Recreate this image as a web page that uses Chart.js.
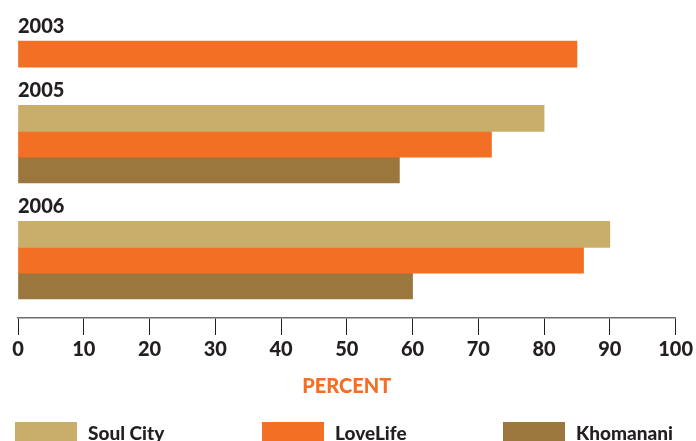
<!DOCTYPE html>
<html>
<head>
    <title>Percent by Campaign</title>
    <script src="https://cdn.jsdelivr.net/npm/chart.js"></script>
    <style>
        body { margin: 0; overflow: hidden; background: #fff; }
        #wrap { position: relative; width: 696px; height: 441px; }
        #legend {
            position: absolute; left: 0; top: 422px; width: 696px; height: 20px;
            font: 900 19px Lato, sans-serif; color: #231f20;
        }
        .item { position: absolute; top: 0; display: flex; align-items: center; white-space: nowrap; height: 20px; }
        .box { width: 62px; height: 20px; margin-right: 11px; }
    </style>
</head>
<body>
<div id="wrap">
    <canvas id="barChart" width="696" height="441"></canvas>
    <div id="legend"></div>
</div>
<script>
    // values
    const years = ['2003', '2005', '2006'];
    const seriesNames = ['Soul City', 'LoveLife', 'Khomanani'];
    const soulCity = [null, 80, 90];
    const loveLife = [85, 72, 86];
    const khomanani = [null, 58, 60];
    const xTicks = [0, 10, 20, 30, 40, 50, 60, 70, 80, 90, 100];

    const seriesValues = [soulCity, loveLife, khomanani];
    const colors = ['#C9AE6B', '#F26F23', '#9B763D'];
    const legendLeft = [15, 262, 503];
    const textColor = '#231f20';
    const boldFont = 'Lato';

    // every bar takes two thin rows; the gaps hold the year captions
    const rows = [];
    const rowData = seriesValues.map(() => []);
    const firstRowOfYear = [];
    function addRow() {
        rows.push('r' + rows.length);
        rowData.forEach(d => d.push(null));
        return rows.length - 1;
    }
    for (let i = 0; i < 3; i++) addRow();
    years.forEach((year, yi) => {
        if (yi > 0) for (let i = 0; i < 3; i++) addRow();
        seriesValues.forEach((vals, si) => {
            if (vals[yi] === null) return;
            const r = addRow();
            if (firstRowOfYear[yi] === undefined) firstRowOfYear[yi] = r;
            rowData[si][r] = vals[yi];
            addRow();
        });
    });
    addRow();

    const BAR = 26;

    const yearCaptions = {
        id: 'yearCaptions',
        afterDatasetsDraw(chart) {
            const { ctx, chartArea, scales } = chart;
            ctx.save();
            ctx.font = '900 20px ' + boldFont;
            ctx.fillStyle = textColor;
            ctx.textAlign = 'left';
            ctx.textBaseline = 'alphabetic';
            years.forEach((year, yi) => {
                const y = scales.y.getPixelForValue(firstRowOfYear[yi]) - BAR / 2 - 8;
                ctx.fillText(year, chartArea.left, y);
            });
            ctx.restore();
        }
    };

    const ctx = document.getElementById('barChart').getContext('2d');
    const chart = new Chart(ctx, {
        type: 'bar',
        data: {
            labels: rows,
            datasets: seriesNames.map((name, i) => ({
                label: name,
                data: rowData[i],
                backgroundColor: colors[i],
                barThickness: BAR,
                grouped: false,
                borderWidth: 0
            }))
        },
        options: {
            indexAxis: 'y',
            responsive: false,
            animation: false,
            layout: { padding: { left: 18, right: 19, top: 9, bottom: 42 } },
            plugins: {
                legend: { display: false },
                tooltip: { enabled: false }
            },
            scales: {
                y: { display: false },
                x: {
                    min: 0,
                    max: 100,
                    afterBuildTicks: axis => { axis.ticks = xTicks.map(v => ({ value: v })); },
                    ticks: {
                        color: textColor,
                        padding: 3,
                        maxRotation: 0,
                        font: { family: boldFont, weight: '900', size: 20 }
                    },
                    grid: {
                        drawOnChartArea: false,
                        drawTicks: true,
                        tickLength: 17,
                        color: textColor,
                        lineWidth: 1
                    },
                    border: { color: '#6d6e71', width: 1.5 },
                    title: {
                        display: true,
                        text: 'PERCENT',
                        color: '#F26F23',
                        font: { family: boldFont, weight: '900', size: 20 },
                        padding: { top: 10, bottom: 0 }
                    }
                }
            }
        },
        plugins: [yearCaptions]
    });

    // legend row under the axis
    const legend = document.getElementById('legend');
    seriesNames.forEach((name, i) => {
        const item = document.createElement('div');
        item.className = 'item';
        item.style.left = legendLeft[i] + 'px';
        const box = document.createElement('span');
        box.className = 'box';
        box.style.background = colors[i];
        item.appendChild(box);
        item.appendChild(document.createTextNode(name));
        legend.appendChild(item);
    });
</script>
</body>
</html>
